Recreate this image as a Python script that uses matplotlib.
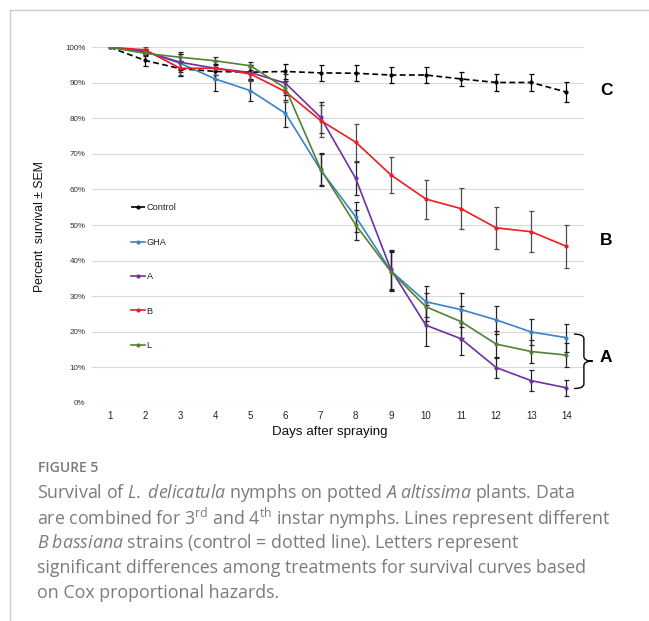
import matplotlib
matplotlib.use("Agg")
import matplotlib.pyplot as plt
from matplotlib.path import Path
from matplotlib.patches import PathPatch
from matplotlib.lines import Line2D
import numpy as np

plt.rcParams['font.family'] = ['Liberation Sans', 'DejaVu Sans']
plt.rcParams['mathtext.fontset'] = 'custom'
plt.rcParams['mathtext.rm'] = 'Open Sans'
plt.rcParams['mathtext.it'] = 'Open Sans:italic'

# survival (%), days 1..14
days = list(range(1, 15))
control = [100, 96.3, 94.0, 93.2, 93.0, 93.2, 92.8, 92.7, 92.2, 92.2, 91.1, 90.1, 90.1, 87.4]
control_sem = [0, 1.5, 2.2, 2.0, 2.0, 2.2, 2.2, 2.3, 2.3, 2.3, 2.0, 2.4, 2.4, 2.8]
gha = [100, 98.8, 95.5, 91.1, 87.8, 81.4, 65.5, 52.3, 37.1, 28.4, 26.2, 23.3, 19.9, 18.3]
gha_sem = [0, 0.8, 2.5, 3.3, 3.0, 3.9, 4.5, 4.3, 5.5, 4.3, 4.8, 3.9, 3.7, 3.9]
strain_a = [100, 98.8, 95.8, 94.1, 92.9, 89.9, 80.3, 63.1, 37.5, 21.8, 18.0, 9.9, 6.2, 4.2]
strain_a_sem = [0, 0.8, 2.2, 2.0, 2.0, 2.5, 4.3, 4.7, 5.5, 5.8, 4.5, 2.9, 3.0, 2.3]
strain_b = [100, 99.3, 94.1, 94.1, 92.5, 87.5, 79.4, 73.3, 64.1, 57.3, 54.6, 49.2, 48.1, 44.0]
strain_b_sem = [0, 0.8, 2.0, 2.0, 2.0, 3.0, 4.5, 5.2, 5.0, 5.5, 5.8, 5.9, 5.8, 6.0]
strain_l = [100, 98.3, 97.2, 96.2, 94.8, 88.5, 65.7, 50.0, 36.9, 27.0, 22.8, 16.5, 14.4, 13.4]
strain_l_sem = [0, 0.8, 1.4, 1.2, 1.2, 2.0, 4.5, 4.2, 5.5, 4.0, 4.5, 3.8, 3.3, 3.3]

series_names = ['Control', 'GHA', 'A', 'B', 'L']
series_colors = ['black', '#3a83c4', '#7030a0', '#ee1c25', '#548235']
series_err_colors = ['black', '#222222', '#222222', '#4d4d4d', '#222222']
series_values = [control, gha, strain_a, strain_b, strain_l]
series_sems = [control_sem, gha_sem, strain_a_sem, strain_b_sem, strain_l_sem]

# significance letters and where they sit (day, %)
letters = ['C', 'B', 'A']
letter_pos = [(15.13, 87.9), (15.13, 45.5), (15.13, 12.7)]

caption_title = "FIGURE 5"
caption_lines = [
    r"Survival of $\mathit{L.\;delicatula}$ nymphs on potted $\mathit{A\;altissima}$ plants. Data",
    r"are combined for 3$^{\mathrm{rd}}$ and 4$^{\mathrm{th}}$ instar nymphs. Lines represent different",
    r"$\mathit{B\;bassiana}$ strains (control = dotted line). Letters represent",
    "significant differences among treatments for survival curves based",
    "on Cox proportional hazards.",
]

W, H = 649, 621
fig = plt.figure(figsize=(W / 100, H / 100), dpi=100)


def px(x, y):
    return x / W, 1 - y / H


ax = fig.add_axes([92.4 / W, 1 - 402.7 / H, 491.5 / W, 355.4 / H])

handles = []
for name, col, ecol, vals, sem in zip(series_names, series_colors, series_err_colors,
                                      series_values, series_sems):
    ls = '--' if name == 'Control' else '-'
    ax.errorbar(days[1:], vals[1:], yerr=sem[1:], fmt='none', ecolor=ecol,
                elinewidth=0.9, capsize=1.8, capthick=0.9, zorder=3)
    ln, = ax.plot(days, vals, color=col, lw=1.2, ls=ls, marker='o', markersize=2,
                  dashes=(3.5, 2) if name == 'Control' else (None, None), zorder=4)
    handles.append(Line2D([], [], color=col, lw=1.2, ls=ls, marker='o', markersize=2))

ax.set_xlim(0.5, 14.5)
ax.set_ylim(0, 100)
ax.set_xticks(days)
ax.set_yticks(range(0, 101, 10))
ax.set_yticklabels([f"{v}%" for v in range(0, 101, 10)])
ax.grid(axis='y', color='#d9d9d9', lw=0.8)
ax.set_axisbelow(True)
for s in ax.spines.values():
    s.set_visible(False)
ax.tick_params(axis='x', length=0, pad=6, labelsize=7, colors='#222222')
ax.tick_params(axis='y', length=0, pad=5, labelsize=5.8, colors='#333333')

ax.set_xlabel('Days after spraying', fontsize=9.6, color='#111111')
ax.xaxis.set_label_coords(0.4834, -0.066)
ax.set_ylabel('Percent  survival ± SEM', fontsize=8.8, color='#111111')
ax.yaxis.set_label_coords(-0.094, 0.497)

leg = ax.legend(handles, series_names, loc='upper left', bbox_to_anchor=px(130.5, 203.5),
                bbox_transform=fig.transFigure, frameon=False, fontsize=6.6,
                handlelength=1.6, handletextpad=0.15, labelspacing=2.77,
                borderpad=0, borderaxespad=0)
for t in leg.get_texts():
    t.set_color('#222222')

for let, (xd, yd) in zip(letters, letter_pos):
    ax.text(xd, yd, let, fontsize=12.5, fontweight='bold', ha='center', va='center',
            clip_on=False)

# curly bracket grouping the A strains
verts = [(14.22, 19.3), (14.5, 19.3), (14.5, 18.0),
         (14.5, 13.0),
         (14.5, 11.7), (14.75, 11.7),
         (14.5, 11.7), (14.5, 10.4),
         (14.5, 5.3),
         (14.5, 4.0), (14.22, 4.0)]
codes = [Path.MOVETO, Path.CURVE3, Path.CURVE3, Path.LINETO, Path.CURVE3, Path.CURVE3,
         Path.CURVE3, Path.CURVE3, Path.LINETO, Path.CURVE3, Path.CURVE3]
ax.add_patch(PathPatch(Path(verts, codes), fill=False, lw=1.0, color='black', clip_on=False))

# panel frame
fig.add_artist(Line2D([9.5 / W, 9.5 / W], [0, 1 - 10 / H], color='#cccccc', lw=1.0))
fig.add_artist(Line2D([9.5 / W, 1], [1 - 10 / H, 1 - 10 / H], color='#cccccc', lw=1.0))

fig.text(*px(38, 468), caption_title, fontsize=10, family='Open Sans', color='#7a7a7a',
         va='center', ha='left', fontweight='semibold')
for i, line in enumerate(caption_lines):
    fig.text(*px(37, 493 + 25 * i), line, fontsize=12.8, family='Open Sans', color='#7b7b7b',
             va='center', ha='left')

fig.savefig('out.png', dpi=100)
